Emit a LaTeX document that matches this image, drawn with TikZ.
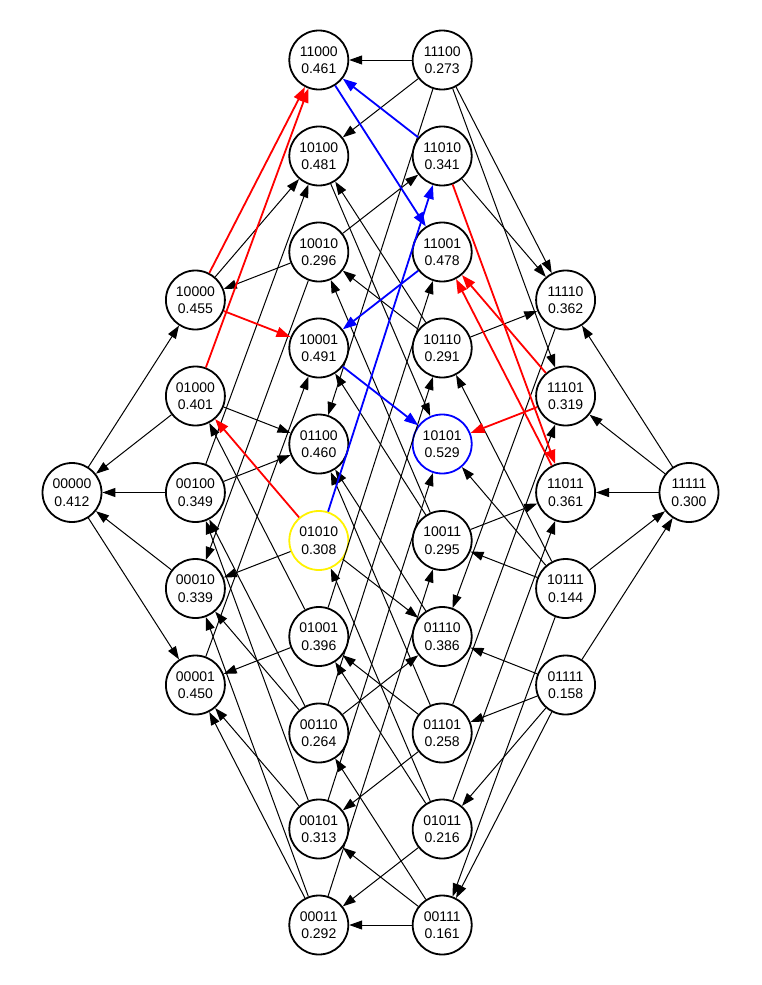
\documentclass[tikz,border=0pt]{standalone}
\usepackage{fontspec}
\setmainfont{Liberation Sans}
\usetikzlibrary{arrows.meta}

\tikzset{
  state/.style={circle, draw, fill=white, line width=1.8pt, minimum size=59pt,
    inner sep=0pt, align=center, font=\fontsize{14}{17.5}\selectfont},
  edge/.style={line width=1pt, -{Triangle[length=13pt,width=9pt]}},
  redpath/.style={edge, draw=red, fill=red, line width=1.8pt, -{Triangle[length=14pt,width=10pt]}},
  bluepath/.style={edge, draw=blue, fill=blue, line width=1.8pt, -{Triangle[length=14pt,width=10pt]}},
}

\begin{document}
\begin{tikzpicture}[x=1pt, y=-1pt]
  \useasboundingbox (0,0) rectangle (761,985);

  % States, one column per number of ones (0..5)
  \node[state] (s00000) at (72,492.5) {00000\\0.412};

  \foreach \name/\ypos/\val in {10000/300/0.455, 01000/396/0.401, 00100/492.5/0.349,
                                00010/588.5/0.339, 00001/685/0.450} {
    \node[state] (s\name) at (195.4,\ypos) {\name\\\val};
  }

  \foreach \name/\ypos/\val/\col in {11000/60/0.461/black, 10100/156/0.481/black,
      10010/252/0.296/black, 10001/348/0.491/black, 01100/444/0.460/black,
      01010/540.5/0.308/yellow, 01001/636.5/0.396/black, 00110/733/0.264/black,
      00101/829/0.313/black, 00011/925/0.292/black} {
    \node[state, draw=\col] (s\name) at (318.8,\ypos) {\name\\\val};
  }

  \foreach \name/\ypos/\val/\col in {11100/60/0.273/black, 11010/156/0.341/black,
      11001/252/0.478/black, 10110/348/0.291/black, 10101/444/0.529/blue,
      10011/540.5/0.295/black, 01110/636.5/0.386/black, 01101/733/0.258/black,
      01011/829/0.216/black, 00111/925/0.161/black} {
    \node[state, draw=\col] (s\name) at (442.2,\ypos) {\name\\\val};
  }

  \foreach \name/\ypos/\val in {11110/300/0.362, 11101/396/0.319, 11011/492.5/0.361,
                                10111/588.5/0.144, 01111/685/0.158} {
    \node[state] (s\name) at (565.6,\ypos) {\name\\\val};
  }

  \node[state] (s11111) at (689,492.5) {11111\\0.300};

  % Moves to a fitter neighbour (one bit flipped)
  \foreach \a/\b in {00000/10000, 01000/00000, 00100/00000, 00010/00000, 00000/00001,
      10000/10100, 10010/10000, 01000/01100, 01001/01000,
      00100/10100, 00100/01100, 00110/00100, 00101/00100,
      10010/00010, 01010/00010, 00110/00010, 00011/00010,
      00001/10001, 01001/00001, 00101/00001, 00011/00001,
      11100/11000, 11100/10100, 10110/10100, 10100/10101,
      10010/11010, 10110/10010, 10011/10010, 10011/10001,
      11100/01100, 01110/01100, 01101/01100, 01010/01110, 01011/01010,
      01001/11001, 01101/01001, 01011/01001,
      00110/10110, 00110/01110, 00111/00110,
      00101/10101, 01101/00101, 00111/00101,
      00011/10011, 01011/00011, 00111/00011,
      11100/11110, 11010/11110, 10110/11110, 11110/01110,
      11100/11101, 01101/11101, 10011/11011, 01011/11011,
      10111/10110, 10111/10101, 10111/10011, 10111/00111,
      01111/01110, 01111/01101, 01111/01011, 01111/00111,
      11111/11110, 11111/11101, 11111/11011, 10111/11111, 01111/11111} {
    \draw[edge] (s\a) -- (s\b);
  }

  % red path
  \foreach \a/\b in {10000/11000, 01000/11000, 10000/10001, 01010/01000,
      11010/11011, 11011/11001, 11101/11001, 11101/10101} {
    \draw[redpath] (s\a) -- (s\b);
  }

  % blue path
  \foreach \a/\b in {11010/11000, 11000/11001, 01010/11010, 11001/10001, 10001/10101} {
    \draw[bluepath] (s\a) -- (s\b);
  }
\end{tikzpicture}
\end{document}
